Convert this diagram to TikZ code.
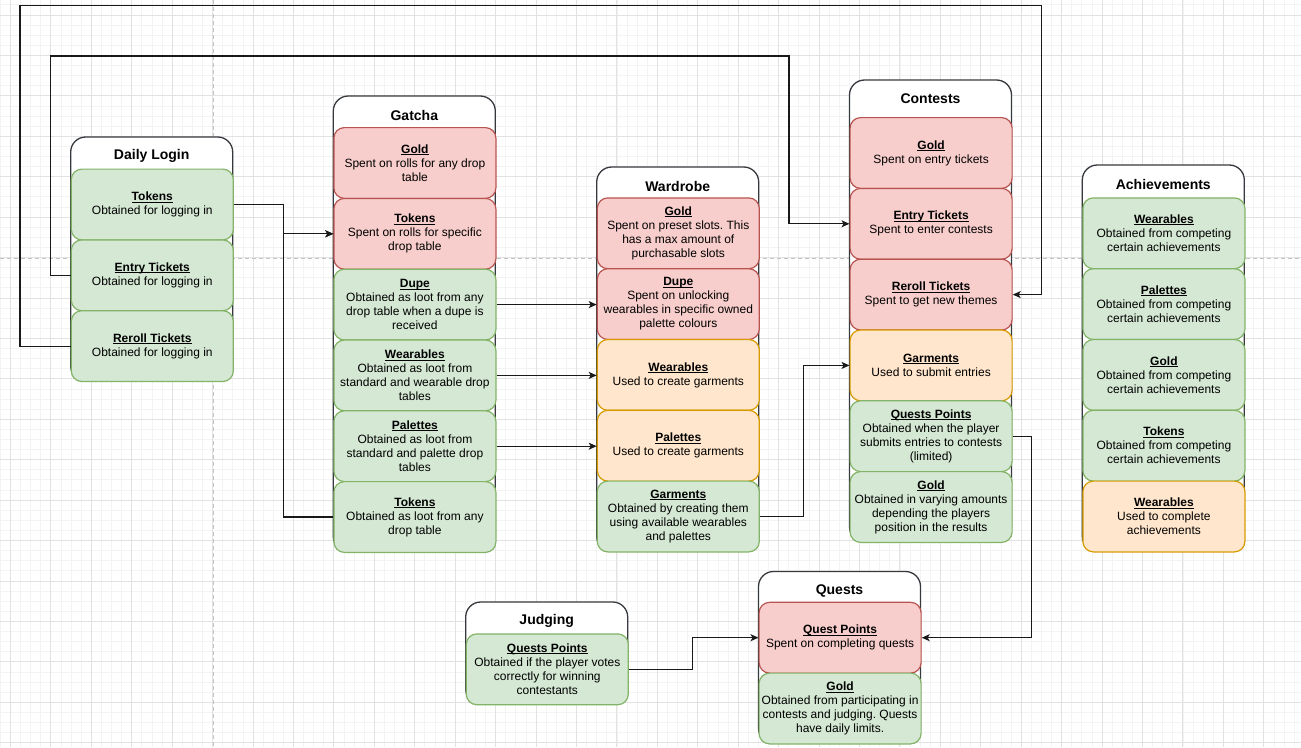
\documentclass[tikz,border=0pt]{standalone}
\usepackage{fontspec}
\setmainfont{Liberation Sans}
\usetikzlibrary{arrows.meta}
\frenchspacing

\definecolor{redfill}{HTML}{F8CECC}
\definecolor{redline}{HTML}{B85450}
\definecolor{greenfill}{HTML}{D5E8D4}
\definecolor{greenline}{HTML}{82B366}
\definecolor{orangefill}{HTML}{FFE6CC}
\definecolor{orangeline}{HTML}{D79B00}
\definecolor{lanefg}{HTML}{36393D}
\definecolor{gridminor}{HTML}{F3F3F3}
\definecolor{gridmajor}{HTML}{E2E2E2}
\definecolor{pagebreak}{HTML}{C4C4C4}

% bold, underlined item heading
\newcommand\hd[1]{\textbf{\setbox0\hbox{#1}\rlap{\rule[-1.8pt]{\wd0}{0.9pt}}\box0}}

\tikzset{
  minorline/.style={draw=gridminor, line width=0.9pt},
  majorline/.style={draw=gridmajor, line width=1pt},
  pageline/.style={draw=pagebreak, line width=0.8pt, dash pattern=on 4pt off 3pt},
  lane/.style={draw=lanefg, fill=white, line width=1.3pt, rounded corners=15pt},
  lanetitle/.style={font=\fontsize{14}{16}\selectfont\bfseries, inner sep=0pt},
  cell/.style={rectangle, rounded corners=10.5pt, minimum width=162pt,
    minimum height=70.8pt, inner sep=0pt, line width=1.2pt, anchor=north west,
    align=center, font=\fontsize{12}{14}\selectfont, text=black},
  redcell/.style={cell, draw=redline, fill=redfill},
  greencell/.style={cell, draw=greenline, fill=greenfill},
  orangecell/.style={cell, draw=orangeline, fill=orangefill},
  link/.style={draw=black!90, line width=1.2pt,
    -{Stealth[length=8pt,width=7pt,inset=2pt]}},
}

\begin{document}
\begin{tikzpicture}[x=1pt,y=-1pt]
\useasboundingbox (0,0) rectangle (1301,747);
\fill[white] (0,0) rectangle (1301,747);

% background grid
\foreach \k in {0,...,128} { \draw[minorline] ({0.39+\k*10.1075},0) -- ++(0,747); }
\foreach \k in {0,...,73} { \draw[minorline] (0,{4.89+\k*10.1075}) -- ++(1301,0); }
\foreach \k in {0,...,32} { \draw[majorline] ({10.5+\k*40.43},0) -- ++(0,747); }
\foreach \k in {0,...,18} { \draw[majorline] (0,{15+\k*40.43}) -- ++(1301,0); }
\draw[pageline] (213,0) -- (213,747);
\draw[pageline] (0,258) -- (1301,258);

% ---------------- Daily Login ----------------
\draw[lane] (70.7,137) rectangle (232.7,381);
\node[lanetitle] (dlT) at (151.7,156) {Daily Login};
\node[greencell] (dlTok) at (70.7,168.5) {\hd{Tokens}\\Obtained for logging in};
\node[greencell] (dlEntry) at (70.7,239.3) {\hd{Entry Tickets}\\Obtained for logging in};
\node[greencell] (dlReroll) at (70.7,310.1) {\hd{Reroll Tickets}\\Obtained for logging in};

% ---------------- Gatcha ----------------
\draw[lane] (333.3,96) rectangle (495.3,551.8);
\node[lanetitle] (gT) at (414.3,115) {Gatcha};
\node[redcell] (gGold) at (333.3,127) {\hd{Gold}\\Spent on rolls for any drop\\table};
\node[redcell] (gTok) at (333.3,197.8) {\hd{Tokens}\\Spent on rolls for specific\\drop table};
\node[greencell] (gDupe) at (333.3,268.6) {\hd{Dupe}\\Obtained as loot from any\\drop table when a dupe is\\received};
\node[greencell] (gWear) at (333.3,339.4) {\hd{Wearables}\\Obtained as loot from\\standard and wearable drop\\tables};
\node[greencell] (gPal) at (333.3,410.2) {\hd{Palettes}\\Obtained as loot from\\standard and palette drop\\tables};
\node[greencell] (gTok2) at (333.3,481) {\hd{Tokens}\\Obtained as loot from any\\drop table};

% ---------------- Wardrobe ----------------
\draw[lane] (596.7,167) rectangle (758.7,551.3);
\node[lanetitle] (wT) at (677.7,186) {Wardrobe};
\node[redcell] (wGold) at (596.7,197.3) {\hd{Gold}\\Spent on preset slots. This\\has a max amount of\\purchasable slots};
\node[redcell] (wDupe) at (596.7,268.1) {\hd{Dupe}\\Spent on unlocking\\wearables in specific owned\\palette colours};
\node[orangecell] (wWear) at (596.7,338.9) {\hd{Wearables}\\Used to create garments};
\node[orangecell] (wPal) at (596.7,409.7) {\hd{Palettes}\\Used to create garments};
\node[greencell] (wGarm) at (596.7,480.5) {\hd{Garments}\\Obtained by creating them\\using available wearables\\and palettes};

% ---------------- Contests ----------------
\draw[lane] (849.5,80) rectangle (1011.5,541.8);
\node[lanetitle] (cT) at (930.5,99) {Contests};
\node[redcell] (cGold) at (849.5,117) {\hd{Gold}\\Spent on entry tickets};
\node[redcell] (cEntry) at (849.5,187.8) {\hd{Entry Tickets}\\Spent to enter contests};
\node[redcell] (cReroll) at (849.5,258.6) {\hd{Reroll Tickets}\\Spent to get new themes};
\node[orangecell] (cGarm) at (849.5,329.4) {\hd{Garments}\\Used to submit entries};
\node[greencell] (cQP) at (849.5,400.2) {\hd{Quests Points}\\Obtained when the player\\submits entries to contests\\(limited)};
\node[greencell] (cGold2) at (849.5,471) {\hd{Gold}\\Obtained in varying amounts\\depending the players\\position in the results};

% ---------------- Achievements ----------------
\draw[lane] (1082.3,165) rectangle (1244.3,551.3);
\node[lanetitle] (aT) at (1163.3,184) {Achievements};
\node[greencell] (aWear) at (1082.3,197.3) {\hd{Wearables}\\Obtained from competing\\certain achievements};
\node[greencell] (aPal) at (1082.3,268.1) {\hd{Palettes}\\Obtained from competing\\certain achievements};
\node[greencell] (aGold) at (1082.3,338.9) {\hd{Gold}\\Obtained from competing\\certain achievements};
\node[greencell] (aTok) at (1082.3,409.7) {\hd{Tokens}\\Obtained from competing\\certain achievements};
\node[orangecell] (aWear2) at (1082.3,480.5) {\hd{Wearables}\\Used to complete\\achievements};

% ---------------- Judging ----------------
\draw[lane] (465.7,602) rectangle (627.7,704.1);
\node[lanetitle] (jT) at (546.7,621) {Judging};
\node[greencell] (jQP) at (465.7,633.3) {\hd{Quests Points}\\Obtained if the player votes\\correctly for winning\\contestants};

% ---------------- Quests ----------------
\draw[lane] (758.5,571.5) rectangle (920.5,743.3);
\node[lanetitle] (qT) at (839.5,590.5) {Quests};
\node[redcell] (qQP) at (758.5,601.7) {\hd{Quest Points}\\Spent on completing quests};
\node[greencell] (qGold) at (758.5,672.5) {\hd{Gold}\\Obtained from participating in\\contests and judging. Quests\\have daily limits.};

% ---------------- connectors ----------------
\coordinate (tokBus) at (283.3,0);
\coordinate (entryTurn) at (50.3,56);
\coordinate (entryDrop) at (789,56);
\coordinate (rerollTurn) at (20,5.3);
\coordinate (rerollDrop) at (1041.7,5.3);
\coordinate (garmBus) at (803.3,0);
\coordinate (questBus) at (1031.7,0);
\coordinate (judgeBus) at (692.3,0);

\draw[link] (dlTok.east) -| (tokBus |- gTok.west) -- (gTok.west);
\draw[link] (gTok2.west) -| (tokBus |- gTok.west) -- (gTok.west);
\draw[link] (dlEntry.west) -| (entryTurn) -- (entryDrop) |- (cEntry.west);
\draw[link] (dlReroll.west) -| (rerollTurn) -- (rerollDrop) |- (cReroll.east);
\draw[link] (gDupe.east) -- (gDupe.east -| wDupe.west);
\draw[link] (gWear.east) -- (gWear.east -| wWear.west);
\draw[link] (gPal.east) -- (gPal.east -| wPal.west);
\draw[link] (wGarm.east) -| (garmBus |- cGarm.west) -- (cGarm.west);
\draw[link] (cQP.east) -| (questBus |- qQP.east) -- (qQP.east);
\draw[link] (jQP.east) -| (judgeBus |- qQP.west) -- (qQP.west);
\end{tikzpicture}
\end{document}
